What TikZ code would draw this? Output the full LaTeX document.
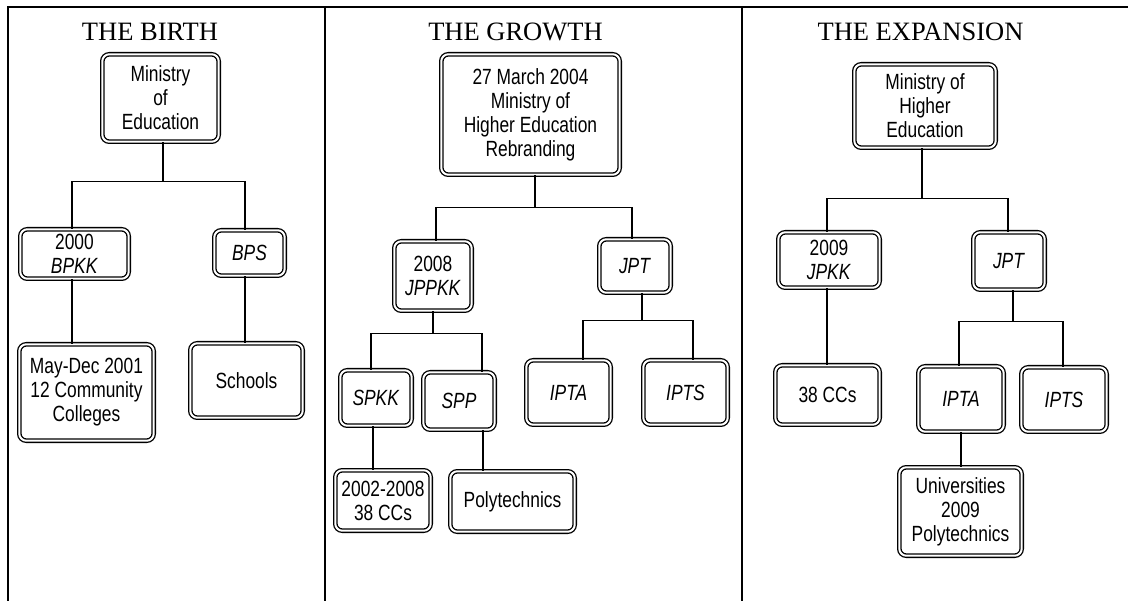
\documentclass[tikz,border=0pt]{standalone}
\usepackage{fontspec}
\newfontfamily\boxfont{Liberation Sans}[FakeStretch=0.79]
\newfontfamily\titlefont{Liberation Serif}
\tikzset{
  bx/.style={draw=black, double=white, line width=1.3pt, double distance=2pt,
    rounded corners=7pt, inner sep=0pt, align=center,
    font=\boxfont\fontsize{22}{24}\selectfont},
  ttl/.style={inner sep=0pt, anchor=base, font=\titlefont\fontsize{26.5}{30}\selectfont},
  frame/.style={line width=2pt},
  conn/.style={line width=1.3pt}
}
\newcommand\bx[6]{\node[bx, minimum width={#4pt-#2pt-4.6pt}, minimum height={#5pt-#3pt-4.6pt}]
  (#1) at ({(#2+#4)/2},{(#3+#5)/2}) {#6};}
\begin{document}
\begin{tikzpicture}[x=1pt,y=-1pt]
\useasboundingbox (0,0) rectangle (1130,601);
% frame
\draw[frame] (8,601) -- (8,7.5) -- (1128,7.5);
\draw[frame] (325,7.5) -- (325,601);
\draw[frame] (742,7.5) -- (742,601);
% titles
\node[ttl] (t1) at (150,40.5) {THE BIRTH};
\node[ttl] (t2) at (515.5,40.5) {THE GROWTH};
\node[ttl] (t3) at (920.5,40.5) {THE EXPANSION};
% panel 1
\bx{moe1}{100}{52}{221}{144}{Ministry\\of\\Education}
\bx{bpkk}{18}{227}{131}{281}{2000\\\textit{BPKK}}
\bx{bps}{212}{228}{287}{278}{\textit{BPS}}
\bx{cc12}{17}{342}{156}{443}{May-Dec 2001\\12 Community\\Colleges}
\bx{schools}{188}{341}{305}{420}{Schools}
\draw[conn] ([xshift=2.5]moe1.south) -- ++(0,39) -| ([xshift=-2.5]bpkk.north);
\draw[conn] ([xshift=2.5]moe1.south) -- ++(0,39) -| ([xshift=-4.5]bps.north);
\draw[conn] ([xshift=-2.5]bpkk.south) -- ([xshift=-14.5]cc12.north);
\draw[conn] ([xshift=-4.5]bps.south) -- ([xshift=-1.5]schools.north);
% panel 2
\bx{moe2}{439}{52}{622}{177}{27 March 2004\\Ministry of\\Higher Education\\Rebranding}
\bx{jppkk}{392}{239}{474}{313}{2008\\\textit{JPPKK}}
\bx{jpt2}{597}{237}{673}{295}{\textit{JPT}}
\bx{ipta2}{524}{358}{613}{427}{\textit{IPTA}}
\bx{ipts2}{641}{358}{730}{427}{\textit{IPTS}}
\bx{spkk}{338}{368}{414}{428}{\textit{SPKK}}
\bx{spp}{421}{370}{497}{432}{\textit{SPP}}
\bx{cc38a}{333}{468}{433}{533}{2002-2008\\38 CCs}
\bx{poly}{448}{469}{577}{534}{Polytechnics}
\draw[conn] ([xshift=4.5]moe2.south) -- ++(0,32) -| ([xshift=3]jppkk.north);
\draw[conn] ([xshift=4.5]moe2.south) -- ++(0,32) -| ([xshift=-3]jpt2.north);
\draw[conn] (jppkk.south) -- ++(0,22) -| ([xshift=-5]spkk.north);
\draw[conn] (jppkk.south) -- ++(0,22) -| ([xshift=23]spp.north);
\draw[conn] ([xshift=7]jpt2.south) -- ++(0,27) -| ([xshift=14.5]ipta2.north);
\draw[conn] ([xshift=7]jpt2.south) -- ++(0,27) -| ([xshift=7.5]ipts2.north);
\draw[conn] ([xshift=-3]spkk.south) -- ([xshift=-10]cc38a.north);
\draw[conn] ([xshift=24]spp.south) -- ([xshift=-29.5]poly.north);
% panel 3
\bx{moe3}{852}{62}{998}{150}{Ministry of\\Higher\\Education}
\bx{jpkk}{776}{230}{882}{290}{2009\\\textit{JPKK}}
\bx{jpt3}{971}{230}{1047}{292}{\textit{JPT}}
\bx{cc38b}{773}{363}{882}{427}{38 CCs}
\bx{ipta3}{916}{364}{1006}{434}{\textit{IPTA}}
\bx{ipts3}{1019}{365}{1109}{434}{\textit{IPTS}}
\bx{univ}{897}{465}{1024}{558}{Universities\\2009\\Polytechnics}
\draw[conn] ([xshift=-3]moe3.south) -- ++(0,50) -| ([xshift=-2]jpkk.north);
\draw[conn] ([xshift=-3]moe3.south) -- ++(0,50) -| ([xshift=-1]jpt3.north);
\draw[conn] ([xshift=-2]jpkk.south) -- ([xshift=-0.5]cc38b.north);
\draw[conn] ([xshift=4]jpt3.south) -- ++(0,31) -| ([xshift=-2]ipta3.north);
\draw[conn] ([xshift=4]jpt3.south) -- ++(0,31) -| ([xshift=-1]ipts3.north);
\draw[conn] (ipta3.south) -- ([xshift=0.5]univ.north);
\end{tikzpicture}
\end{document}
